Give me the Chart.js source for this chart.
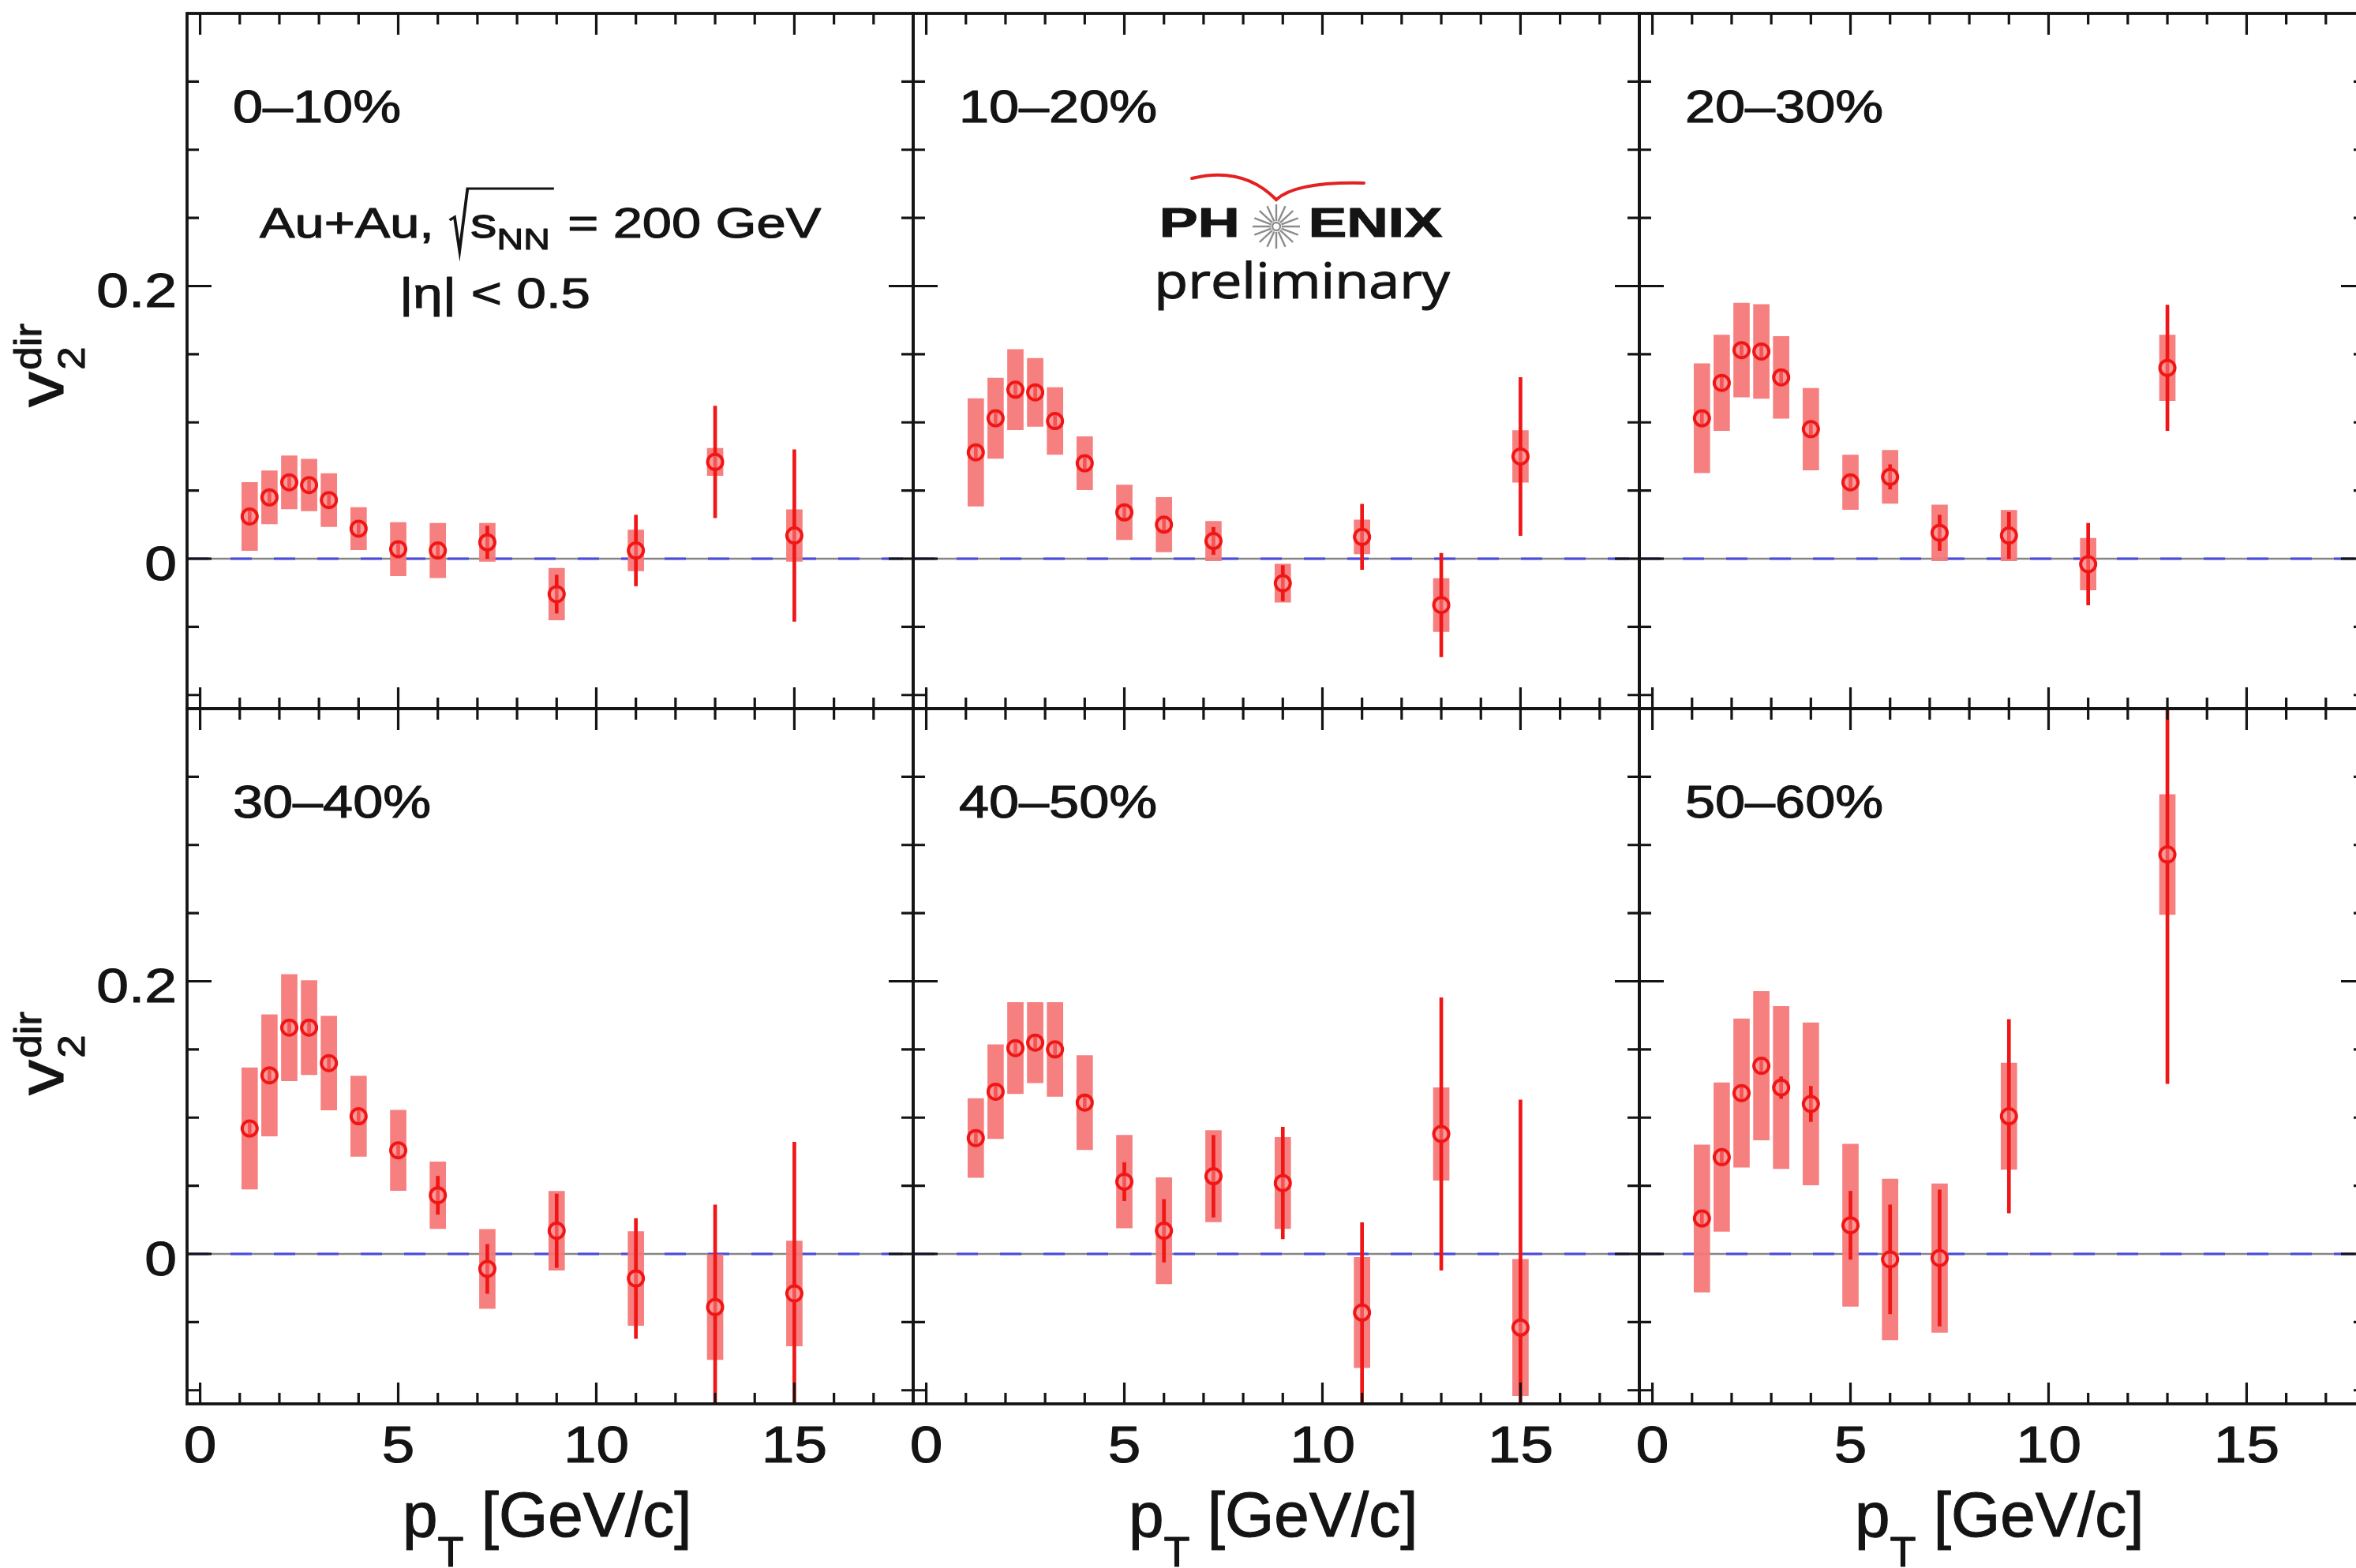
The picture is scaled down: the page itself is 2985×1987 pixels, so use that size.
<!DOCTYPE html>
<html><head><meta charset="utf-8">
<script src="https://cdn.jsdelivr.net/npm/chart.js"></script>
<style>
html,body{margin:0;padding:0;background:#fff;overflow:hidden;width:2985px;height:1987px;position:relative;}
canvas{position:absolute;}
</style></head><body>
<script>
// ---------------- DATA ----------------
const pT = [1.25, 1.75, 2.25, 2.75, 3.25, 4, 5, 6, 7.25, 9, 11, 13, 15];
const centralities = ['0–10%', '10–20%', '20–30%', '30–40%', '40–50%', '50–60%'];

const v2_0_10   = [0.031, 0.045, 0.056, 0.054, 0.043, 0.022, 0.007, 0.006, 0.012, -0.026, 0.006, 0.071, 0.017];
const stat_0_10 = [0.004, 0.004, 0.004, 0.004, 0.004, 0.004, 0.005, 0.005, 0.012, 0.014, 0.026, 0.041, 0.063];
const sys_0_10  = [0.025, 0.0195, 0.0195, 0.019, 0.0195, 0.0155, 0.0195, 0.020, 0.014, 0.019, 0.015, 0.010, 0.019];

const v2_10_20   = [0.078, 0.103, 0.124, 0.122, 0.101, 0.070, 0.034, 0.025, 0.013, -0.018, 0.016, -0.034, 0.075];
const stat_10_20 = [0.004, 0.004, 0.004, 0.004, 0.004, 0.004, 0.005, 0.005, 0.010, 0.013, 0.024, 0.038, 0.058];
const sys_10_20  = [0.0395, 0.0295, 0.0295, 0.025, 0.0245, 0.0195, 0.020, 0.020, 0.0145, 0.014, 0.0125, 0.0195, 0.019];

const v2_20_30   = [0.103, 0.129, 0.153, 0.152, 0.133, 0.095, 0.056, 0.060, 0.019, 0.017, -0.004, 0.140, null];
const stat_20_30 = [0.004, 0.004, 0.004, 0.004, 0.004, 0.004, 0.004, 0.009, 0.013, 0.017, 0.030, 0.046, null];
const sys_20_30  = [0.040, 0.035, 0.0345, 0.0345, 0.030, 0.030, 0.020, 0.0195, 0.0205, 0.0185, 0.019, 0.024, null];

const v2_30_40   = [0.092, 0.131, 0.166, 0.166, 0.140, 0.101, 0.076, 0.043, -0.011, 0.017, -0.018, -0.039, -0.029];
const stat_30_40 = [0.004, 0.004, 0.004, 0.004, 0.004, 0.004, 0.004, 0.014, 0.018, 0.027, 0.044, 0.075, 0.111];
const sys_30_40  = [0.0445, 0.0445, 0.039, 0.0345, 0.0345, 0.0295, 0.0295, 0.0245, 0.029, 0.029, 0.0345, 0.0385, 0.0385];

const v2_40_50   = [0.085, 0.119, 0.151, 0.155, 0.150, 0.111, 0.053, 0.017, 0.057, 0.052, -0.043, 0.088, -0.054];
const stat_40_50 = [0.004, 0.004, 0.004, 0.004, 0.004, 0.004, 0.014, 0.023, 0.030, 0.041, 0.066, 0.100, 0.167];
const sys_40_50  = [0.029, 0.0345, 0.0335, 0.0295, 0.0345, 0.0345, 0.034, 0.039, 0.0335, 0.0335, 0.0405, 0.034, 0.050];

const v2_50_60   = [0.026, 0.071, 0.118, 0.138, 0.122, 0.110, 0.021, -0.004, -0.003, 0.101, null, 0.293, null];
const stat_50_60 = [0.004, 0.004, 0.004, 0.004, 0.008, 0.013, 0.025, 0.040, 0.050, 0.071, null, 0.168, null];
const sys_50_60  = [0.054, 0.0545, 0.0545, 0.0545, 0.0595, 0.0595, 0.0595, 0.059, 0.0545, 0.039, null, 0.044, null];

const xTickLabels = [0, 5, 10, 15];
const yTickLabels = [0, 0.2];
const xRange = [-0.33, 18];
const yRange = [-0.11, 0.40];
const xMajorStep = 5, xMinorStep = 1, yMajorStep = 0.2, yMinorStep = 0.05;

// ---------------- LAYOUT / STYLE ----------------
const FONT = '"Liberation Sans", Arial, Helvetica, sans-serif';
const colLeft = [237, 1157, 2077], rowTop = [17, 898];
const PW = 920, PHt = 881, PAGE_H = 1987;
const RED = '#f01616', BOX = 'rgba(246,120,120,0.95)';
const INK = '#141414', TEXT_STROKE = 1.1;

const panels = [
  {label: centralities[0], v2: v2_0_10,  stat: stat_0_10,  sys: sys_0_10},
  {label: centralities[1], v2: v2_10_20, stat: stat_10_20, sys: sys_10_20},
  {label: centralities[2], v2: v2_20_30, stat: stat_20_30, sys: sys_20_30},
  {label: centralities[3], v2: v2_30_40, stat: stat_30_40, sys: sys_30_40},
  {label: centralities[4], v2: v2_40_50, stat: stat_40_50, sys: sys_40_50},
  {label: centralities[5], v2: v2_50_60, stat: stat_50_60, sys: sys_50_60},
];

function ink(ctx, s, x, y) {
  ctx.fillText(s, x, y);
  ctx.lineWidth = TEXT_STROKE; ctx.strokeStyle = ctx.fillStyle; ctx.lineJoin = 'round';
  ctx.strokeText(s, x, y);
}
function fitInk(ctx, s, x0, W, y, font) {
  ctx.font = font; ctx.textAlign = 'left'; ctx.textBaseline = 'alphabetic';
  const m = ctx.measureText(s);
  const w = m.actualBoundingBoxLeft + m.actualBoundingBoxRight;
  const sx = W / w;
  ctx.save();
  ctx.translate(x0 + m.actualBoundingBoxLeft * sx, y);
  ctx.scale(sx, 1);
  ink(ctx, s, 0, 0);
  ctx.restore();
}
function stretched(ctx, s, x, y, font, sx, align) {
  ctx.save();
  ctx.font = font; ctx.textAlign = align; ctx.textBaseline = 'alphabetic';
  ctx.translate(x, y); ctx.scale(sx, 1);
  ink(ctx, s, 0, 0);
  ctx.restore();
}
function fmt(v) { return Math.abs(v) < 1e-12 ? '0' : String(+v.toFixed(3)); }

function drawEnergy(ctx) {
  const big = `53px ${FONT}`, small = `37px ${FONT}`;
  const t1 = 'Au+Au, ', t3 = 's', t5 = ' = 200 GeV';
  ctx.textAlign = 'left'; ctx.textBaseline = 'alphabetic';
  ctx.font = big;
  const m1 = ctx.measureText(t1), w1 = m1.width, w3 = ctx.measureText(t3).width;
  const m5 = ctx.measureText(t5);
  ctx.font = small; const w4 = ctx.measureText('NN').width;
  const wr = 22;
  const inkL = -m1.actualBoundingBoxLeft;
  const total = w1 + wr + w3 + w4 + 3 + m5.actualBoundingBoxRight - inkL;
  const sx = 712 / total;
  ctx.save();
  ctx.translate(329 - inkL * sx, 301);
  ctx.scale(sx, 1);
  ctx.font = big; ink(ctx, t1, 0, 0);
  let x = w1;
  ctx.strokeStyle = INK; ctx.lineWidth = 3; ctx.lineJoin = 'miter';
  ctx.beginPath();
  ctx.moveTo(x + 1, -22); ctx.lineTo(x + 6, -26); ctx.lineTo(x + 11, 17); ctx.lineTo(x + 19, -62);
  ctx.lineTo(x + wr + w3 + w4 + 4, -62);
  ctx.stroke();
  x += wr;
  ink(ctx, t3, x, 0); x += w3;
  ctx.font = small; ink(ctx, 'NN', x, 15); x += w4 + 3;
  ctx.font = big; ink(ctx, t5, x, 0);
  ctx.restore();
}

function drawLogo(ctx) {
  ctx.fillStyle = INK;
  fitInk(ctx, 'PH', 1473, 94, 300, `bold 52px ${FONT}`);
  fitInk(ctx, 'ENIX', 1662, 166, 300, `bold 52px ${FONT}`);
  fitInk(ctx, 'preliminary', 1468, 370, 378, `62px "Open Sans", ${FONT}`);
  const cx = 1617, cy = 287;
  ctx.strokeStyle = '#8c8c8c'; ctx.lineWidth = 2.4;
  ctx.beginPath();
  for (let k = 0; k < 16; k++) {
    const a = k * Math.PI / 8;
    ctx.moveTo(cx + 7 * Math.cos(a), cy + 7 * Math.sin(a));
    ctx.lineTo(cx + 30 * Math.cos(a), cy + 28 * Math.sin(a));
  }
  ctx.stroke();
  ctx.beginPath(); ctx.arc(cx, cy, 5, 0, 2 * Math.PI); ctx.stroke();
  ctx.strokeStyle = '#e42020'; ctx.lineWidth = 4; ctx.lineCap = 'round';
  ctx.beginPath();
  ctx.moveTo(1510, 226);
  ctx.quadraticCurveTo(1575, 210, 1617, 253);
  ctx.quadraticCurveTo(1642, 230, 1728, 232);
  ctx.stroke();
}

function drawYTitle(ctx, yStart) {
  ctx.save();
  ctx.fillStyle = INK;
  ctx.translate(80, yStart);
  ctx.rotate(-Math.PI / 2);
  ctx.scale(1.1, 1);
  ctx.textAlign = 'left'; ctx.textBaseline = 'alphabetic';
  ctx.font = `82px ${FONT}`;
  ink(ctx, 'v', 0, 0);
  const w = ctx.measureText('v').width;
  ctx.font = `48px ${FONT}`;
  ink(ctx, '2', w + 2, 27);
  ink(ctx, 'dir', w + 2, -28);
  ctx.restore();
}

function drawXTitle(ctx, L) {
  ctx.save();
  ctx.fillStyle = INK; ctx.textAlign = 'left'; ctx.textBaseline = 'alphabetic';
  let x = L + 273; const y = 1947;
  ctx.font = `80px ${FONT}`; ink(ctx, 'p', x, y); x += ctx.measureText('p').width;
  ctx.font = `54px ${FONT}`; ink(ctx, 'T', x, y + 38); x += ctx.measureText('T').width;
  ctx.font = `80px ${FONT}`; ink(ctx, ' [GeV/c]', x, y);
  ctx.restore();
}

panels.forEach((p, i) => {
  const c = i % 3, r = Math.floor(i / 3);
  const ox = c === 0 ? 0 : colLeft[c] - 30;
  const oy = r === 0 ? 0 : rowTop[r] - 30;
  const right = colLeft[c] + PW + 30;
  const bottom = r === 0 ? rowTop[r] + PHt + 30 : PAGE_H;
  const cv = document.createElement('canvas');
  cv.width = right - ox; cv.height = bottom - oy;
  cv.style.left = ox + 'px'; cv.style.top = oy + 'px';
  document.body.appendChild(cv);

  const idx = pT.map((_, k) => k).filter(k => p.v2[k] !== null);
  const sysData = idx.map(k => ({x: pT[k], y: [p.v2[k] - p.sys[k], p.v2[k] + p.sys[k]]}));
  const statData = idx.map(k => ({x: pT[k], y: [p.v2[k] - p.stat[k], p.v2[k] + p.stat[k]]}));
  const ptData = idx.map(k => ({x: pT[k], y: p.v2[k]}));
  const zeroData = xRange.map(x => ({x, y: 0}));

  const decor = {
    id: 'decor' + i,
    afterDraw(chart) {
      const ctx = chart.ctx, a = chart.chartArea, xs = chart.scales.x, ys = chart.scales.y;
      ctx.save();
      ctx.strokeStyle = INK; ctx.lineWidth = 3.2; ctx.lineCap = 'butt';
      ctx.beginPath();
      for (let v = Math.ceil(xRange[0] / xMinorStep) * xMinorStep; v < xRange[1] - 1e-9; v += xMinorStep) {
        const px = xs.getPixelForValue(v);
        const major = Math.abs(v / xMajorStep - Math.round(v / xMajorStep)) < 1e-9;
        const len = major ? 27 : 14;
        ctx.moveTo(px, a.bottom); ctx.lineTo(px, a.bottom - len);
        ctx.moveTo(px, a.top); ctx.lineTo(px, a.top + len);
      }
      const k0 = Math.ceil(yRange[0] / yMinorStep - 1e-9), k1 = Math.floor(yRange[1] / yMinorStep + 1e-9);
      for (let k = k0; k <= k1; k++) {
        const v = +(k * yMinorStep).toFixed(6);
        if (v >= yRange[1] - 1e-9) continue;
        const py = ys.getPixelForValue(v);
        const major = Math.abs(v / yMajorStep - Math.round(v / yMajorStep)) < 1e-9;
        const len = major ? 31 : 15;
        ctx.moveTo(a.left, py); ctx.lineTo(a.left + len, py);
        ctx.moveTo(a.right, py); ctx.lineTo(a.right - len, py);
      }
      ctx.stroke();
      ctx.lineWidth = 3.8;
      ctx.strokeRect(a.left, a.top, a.right - a.left, a.bottom - a.top);

      ctx.fillStyle = INK;
      if (c === 0) {
        yTickLabels.forEach(v => {
          stretched(ctx, fmt(v), a.left - 13, ys.getPixelForValue(v) + 27, `61px ${FONT}`, 1.2, 'right');
        });
      }
      if (r === 1) {
        xTickLabels.forEach(v => {
          stretched(ctx, fmt(v), xs.getPixelForValue(v), a.bottom + 74, `65px ${FONT}`, 1.15, 'center');
        });
      }
      // page-coordinate decorations
      ctx.translate(-ox, -oy);
      const L = colLeft[c], T = rowTop[r];
      stretched(ctx, p.label, L + 58, T + 138, `57px ${FONT}`, 1.2, 'left');
      if (c === 0) drawYTitle(ctx, r === 0 ? 516 : 1388);
      if (r === 1) drawXTitle(ctx, L);
      if (i === 0) {
        drawEnergy(ctx);
        ctx.fillStyle = INK;
        fitInk(ctx, '|η| < 0.5', 511, 235, 390, `53px ${FONT}`);
      }
      if (i === 1) drawLogo(ctx);
      ctx.restore();
    }
  };

  new Chart(cv, {
    type: 'scatter',
    data: {
      datasets: [
        {type: 'scatter', data: ptData, pointStyle: 'circle', pointRadius: 9.5, pointBorderWidth: 4,
         pointBorderColor: RED, pointBackgroundColor: 'rgba(255,200,200,0.35)', order: 0},
        {type: 'bar', data: statData, backgroundColor: RED, borderWidth: 0, barThickness: 4,
         grouped: false, clip: 0, order: 1},
        {type: 'bar', data: sysData, backgroundColor: BOX, borderWidth: 0, barThickness: 20,
         grouped: false, clip: 0, order: 2},
        {type: 'line', data: zeroData, borderColor: '#4a4ae0', borderWidth: 3.2, borderDash: [27, 28],
         pointRadius: 0, showLine: true, fill: false, clip: 0, order: 3},
        {type: 'line', data: zeroData, borderColor: '#858585', borderWidth: 2.5,
         pointRadius: 0, showLine: true, fill: false, clip: 0, order: 4},
      ]
    },
    options: {
      responsive: false, animation: false, devicePixelRatio: 1,
      layout: {padding: {left: colLeft[c] - ox, top: rowTop[r] - oy, right: 30, bottom: bottom - (rowTop[r] + PHt)}},
      plugins: {legend: {display: false}, tooltip: {enabled: false}},
      events: [],
      scales: {
        x: {type: 'linear', min: xRange[0], max: xRange[1], display: false, offset: false},
        y: {type: 'linear', min: yRange[0], max: yRange[1], display: false}
      }
    },
    plugins: [decor]
  });
});
</script>
</body></html>
